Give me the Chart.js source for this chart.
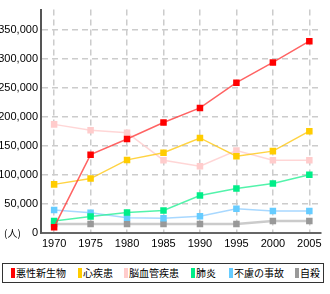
<!DOCTYPE html>
<html>
<head>
<meta charset="utf-8">
<script src="https://cdn.jsdelivr.net/npm/chart.js@4"></script>
<style>
  html, body { margin: 0; padding: 0; background: #fff; }
  #wrap { position: relative; width: 330px; height: 294px; }
  #chartBox { position: absolute; left: 0; top: 0; width: 330px; height: 258px; }
  #legend {
    position: absolute; left: 2px; top: 263px; width: 320px; height: 18px;
    border: 1px solid #333; box-sizing: content-box;
    font-family: "Noto Sans CJK JP", sans-serif; font-size: 10px; line-height: 18px;
    color: #000; white-space: nowrap;
  }
  .item { position: absolute; top: 0; }
  .sw { position: absolute; top: 4px; width: 4px; height: 10px; }
  .lb { position: absolute; left: 5px; top: 0; }
</style>
</head>
<body>
<div id="wrap">
  <div id="chartBox"><canvas id="myChart"></canvas></div>
  <div id="legend"></div>
</div>
<script>
// Years on the X axis
const years = [1970, 1975, 1980, 1985, 1990, 1995, 2000, 2005];

// Series values (people)
const cancer     = [10000, 135000, 162000, 190500, 215500, 259000, 294000, 330500];
const heart      = [83800, 93800, 126000, 138300, 163800, 132200, 141100, 175500];
const stroke     = [187200, 177200, 172800, 125500, 115000, 142200, 125500, 125500];
const pneumonia  = [20500, 28300, 35500, 38800, 64500, 76700, 85500, 100500];
const accident   = [39500, 35000, 26100, 25500, 28800, 41700, 37800, 37800];
const suicide    = [15500, 15500, 15500, 15500, 15500, 15500, 20500, 20500];

const seriesNames = ['悪性新生物', '心疾患', '脳血管疾患', '肺炎', '不慮の事故', '自殺'];
const yTicks = [0, 50000, 100000, 150000, 200000, 250000, 300000, 350000];

const pointColors = ['#ff0000', '#ffcc00', '#ffcccc', '#00ee88', '#66ccff', '#999999'];
const lineColors = ['rgba(255,60,60,0.8)', 'rgba(255,200,20,0.8)', 'rgba(255,204,204,0.8)',
                    'rgba(40,240,150,0.8)', 'rgba(110,190,255,0.6)', 'rgba(190,190,190,0.8)'];
const lineWidths = [1.5, 1.5, 1.5, 1.5, 1.5, 2.5];
const allValues = [cancer, heart, stroke, pneumonia, accident, suicide];

const datasets = allValues.map((vals, i) => ({
  label: seriesNames[i],
  data: vals.map((v, j) => ({ x: years[j], y: v })),
  borderColor: lineColors[i],
  borderWidth: lineWidths[i],
  pointStyle: 'rect',
  pointRadius: 4.6,
  pointBorderWidth: 0,
  pointBackgroundColor: pointColors[i],
  pointBorderColor: pointColors[i],
  tension: 0,
  fill: false
}));

// unit label next to the zero tick
const unitLabel = {
  id: 'unitLabel',
  afterDraw(chart) {
    const c = chart.ctx;
    const y0 = chart.scales.y.getPixelForValue(0);
    c.save();
    c.font = '10px "Noto Sans CJK JP", sans-serif';
    c.fillStyle = '#000';
    c.textBaseline = 'middle';
    c.fillText('(人)', 4, y0);
    c.restore();
  }
};

const tickFont = { family: '"Liberation Sans Narrow", "Liberation Sans", sans-serif', size: 11 };

new Chart(document.getElementById('myChart').getContext('2d'), {
  type: 'line',
  data: { datasets },
  plugins: [unitLabel],
  options: {
    responsive: true,
    maintainAspectRatio: false,
    animation: false,
    layout: { padding: { top: 2, right: 9, left: 0, bottom: 0 } },
    plugins: { legend: { display: false }, tooltip: { enabled: false } },
    scales: {
      x: {
        type: 'linear',
        min: 1968.2,
        max: 2006.6,
        afterBuildTicks: s => { s.ticks = years.map(v => ({ value: v })); },
        afterFit: s => { s.height = 25; },
        ticks: { color: '#000', font: tickFont, padding: 4, maxRotation: 0, callback: v => String(v) },
        grid: { color: '#cccccc', lineWidth: 1.5, drawTicks: false },
        border: { color: '#666', width: 2, dash: [6, 4] }
      },
      y: {
        min: 0,
        max: 385000,
        afterBuildTicks: s => { s.ticks = yTicks.map(v => ({ value: v })); },
        afterFit: s => { s.width = 41; },
        ticks: { color: '#000', font: tickFont, padding: 3,
                 callback: v => v.toLocaleString('en-US') },
        grid: { color: '#cccccc', lineWidth: 1.5, drawTicks: false },
        border: { color: '#555', width: 2, dash: [6, 4] }
      }
    }
  }
});

// HTML legend built from the series
const legendX = [8, 75, 121, 188, 226, 292];
const legendEl = document.getElementById('legend');
seriesNames.forEach((name, i) => {
  const it = document.createElement('div');
  it.className = 'item';
  it.style.left = legendX[i] + 'px';
  it.innerHTML = '<span class="sw" style="background:' + pointColors[i] + '"></span>' +
                 '<span class="lb">' + name + '</span>';
  legendEl.appendChild(it);
});
</script>
</body>
</html>
